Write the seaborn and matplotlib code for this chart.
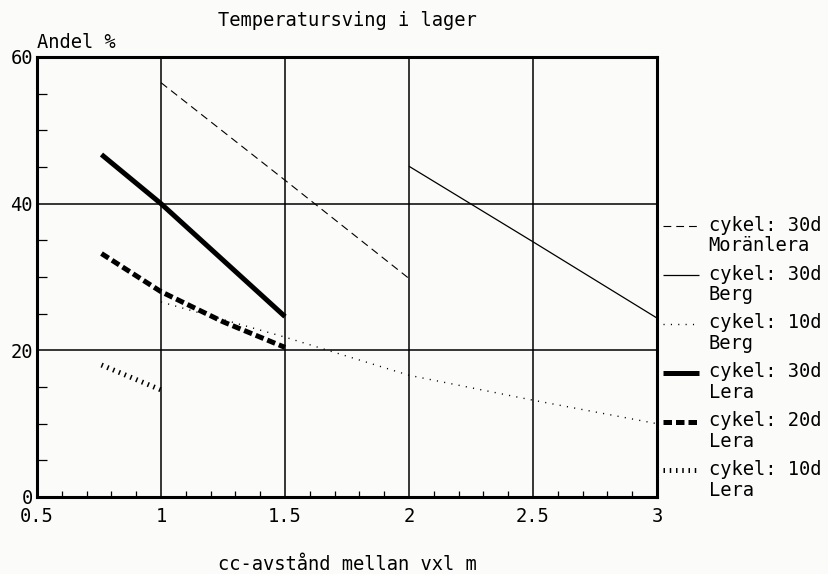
import matplotlib
matplotlib.use("Agg")
import matplotlib.pyplot as plt
from matplotlib.ticker import MultipleLocator
import seaborn as sns
import pandas as pd

# ---- data ----
x_moran30 = [1.0, 1.5, 2.0]
y_moran30 = [56.5, 43.2, 29.8]

x_berg30 = [2.0, 2.5, 3.0]
y_berg30 = [45.1, 34.8, 24.4]

x_berg10 = [1.0, 1.5, 2.0, 2.5, 3.0]
y_berg10 = [26.6, 21.8, 16.6, 13.2, 10.0]

x_lera30 = [0.76, 1.0, 1.5]
y_lera30 = [46.7, 40.0, 24.6]

x_lera20 = [0.76, 1.0, 1.25, 1.5]
y_lera20 = [33.2, 28.0, 23.9, 20.4]

x_lera10 = [0.76, 1.0]
y_lera10 = [18.0, 14.6]

labels = ["cykel: 30d\nMoränlera", "cykel: 30d\nBerg", "cykel: 10d\nBerg",
          "cykel: 30d\nLera", "cykel: 20d\nLera", "cykel: 10d\nLera"]

title = "Temperatursving i lager"
xlabel = "cc-avstånd mellan vxl m"
ylabel = "Andel %"
xticks = [0.5, 1, 1.5, 2, 2.5, 3]
xticklabels = ["0.5", "1", "1.5", "2", "2.5", "3"]
yticks = [0, 20, 40, 60]
yticklabels = ["0", "20", "40", "60"]

sns.set_theme(style="white")
plt.rcParams["font.family"] = ["DejaVu Sans Mono", "DejaVu Sans"]
plt.rcParams["text.color"] = "black"
FS = 13.5

bg = "#fbfbf9"
fig = plt.figure(figsize=(8.29, 5.74), dpi=100, facecolor=bg)
ax = fig.add_axes([37 / 829, 1 - 497 / 574, (657 - 37) / 829, (497 - 57) / 574])
ax.set_facecolor(bg)

series = [
    (x_moran30, y_moran30, dict(lw=0.8, linestyle=(0, (7, 4.5)))),
    (x_berg30, y_berg30, dict(lw=0.9, linestyle="-")),
    (x_berg10, y_berg10, dict(lw=1.0, linestyle=(0, (0.8, 4.5)))),
    (x_lera30, y_lera30, dict(lw=3.6, linestyle="-")),
    (x_lera20, y_lera20, dict(lw=3.6, linestyle=(0, (1.7, 0.8)))),
    (x_lera10, y_lera10, dict(lw=3.6, linestyle=(0, (0.3, 0.95)))),
]

for (xs, ys, style), lab in zip(series, labels):
    df = pd.DataFrame({"x": xs, "y": ys})
    sns.lineplot(data=df, x="x", y="y", ax=ax, color="black", label=lab,
                 sort=False, dash_capstyle="butt", solid_capstyle="butt", **style)

ax.set_xlim(0.5, 3)
ax.set_ylim(0, 60)

# grid lines at major positions
for gx in [1, 1.5, 2, 2.5]:
    ax.axvline(gx, color="black", lw=1.1, zorder=0.5)
for gy in [20, 40]:
    ax.axhline(gy, color="black", lw=1.1, zorder=0.5)

for sp in ax.spines.values():
    sp.set_visible(True)
    sp.set_color("black")
    sp.set_linewidth(2.2)

ax.set_xticks(xticks)
ax.set_xticklabels(xticklabels, fontsize=FS)
ax.set_yticks(yticks)
ax.set_yticklabels(yticklabels, fontsize=FS)
ax.xaxis.set_minor_locator(MultipleLocator(0.1))
ax.yaxis.set_minor_locator(MultipleLocator(5))
ax.tick_params(axis="x", which="major", length=0, pad=7, colors="black")
ax.tick_params(axis="y", which="major", length=0, pad=3, colors="black")
ax.tick_params(axis="x", which="minor", direction="in", length=4, width=0.9,
               color="black", bottom=True, top=False)
ax.tick_params(axis="y", which="minor", direction="in", length=7, width=0.9,
               color="black", left=True, right=False)

ax.set_xlabel(xlabel, fontsize=FS, labelpad=21, color="black")
ax.set_ylabel(ylabel, fontsize=FS, rotation=0, ha="left", va="center", color="black")
ax.yaxis.set_label_coords(0.0, 1.032)
ax.set_title(title, fontsize=FS, pad=22, color="black")

leg = ax.legend(loc="upper left", bbox_to_anchor=(1.0, 0.652), frameon=False,
                fontsize=FS, handlelength=1.92, handletextpad=0.53,
                labelspacing=0.5, borderaxespad=0.3, borderpad=0.0)
for t in leg.get_texts():
    t.set_linespacing(1.1)
# align each handle with the first line of its two-line label
for ln in leg.get_lines():
    ln.set_ydata([v + 7.5 for v in ln.get_ydata()])

fig.savefig("out.png", dpi=100, facecolor=bg)
